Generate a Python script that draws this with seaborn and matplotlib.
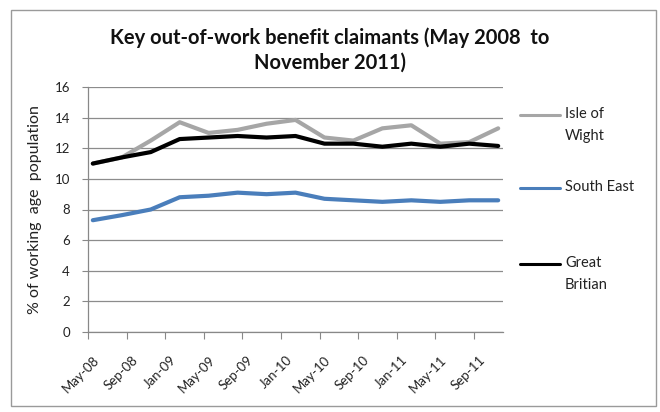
import matplotlib
matplotlib.use("Agg")
import matplotlib.pyplot as plt
from matplotlib.lines import Line2D
from matplotlib.patches import Rectangle
import matplotlib.transforms as mtransforms
import seaborn as sns
import pandas as pd
import numpy as np

# quarterly observations, May-08 .. Nov-11
periods = ["May-08", "Aug-08", "Nov-08", "Feb-09", "May-09", "Aug-09", "Nov-09", "Feb-10",
           "May-10", "Aug-10", "Nov-10", "Feb-11", "May-11", "Aug-11", "Nov-11"]
month_index = [0, 3, 6, 9, 12, 15, 18, 21, 24, 27, 30, 33, 36, 39, 42]
isle_of_wight = [11.0, 11.4, 12.5, 13.7, 13.0, 13.2, 13.6, 13.85, 12.7, 12.5, 13.3, 13.5, 12.3, 12.4, 13.3]
south_east = [7.3, 7.63, 8.0, 8.8, 8.9, 9.1, 9.0, 9.1, 8.7, 8.6, 8.5, 8.6, 8.5, 8.6, 8.6]
great_britain = [11.0, 11.4, 11.75, 12.6, 12.7, 12.8, 12.7, 12.8, 12.3, 12.3, 12.1, 12.3, 12.1, 12.3, 12.15]

series_names = ["Isle of\nWight", "South East", "Great\nBritian"]
colors = ["#A6A6A6", "#4A7EBB", "#000000"]
tick_labels = ["May-08", "Sep-08", "Jan-09", "May-09", "Sep-09", "Jan-10", "May-10",
               "Sep-10", "Jan-11", "May-11", "Sep-11"]
tick_months = [0, 4, 8, 12, 16, 20, 24, 28, 32, 36, 40]

sns.set_style("white")
FONT = ["Lato", "DejaVu Sans"]
plt.rcParams["font.family"] = FONT

rows = []
for name, vals in zip(series_names, [isle_of_wight, south_east, great_britain]):
    for m, v in zip(month_index, vals):
        rows.append({"month": m + 0.5, "value": v, "series": name})
df = pd.DataFrame(rows)

fig = plt.figure(figsize=(6.6, 4.12), dpi=100)
ax = fig.add_axes([88 / 660, 80 / 412, (503 - 88) / 660, (332 - 87) / 412])

sns.lineplot(data=df, x="month", y="value", hue="series", hue_order=series_names,
             palette=colors, linewidth=3.0, ax=ax, legend=False)

ax.set_xlim(0, 43)
ax.set_ylim(0, 16)
ax.set_yticks(np.arange(0, 17, 2))
ax.set_xticks(tick_months)
ax.tick_params(axis="y", labelsize=9.5, colors="#222222", length=4, width=0.8,
               direction="out", left=True, color="#888888", pad=9)
ax.tick_params(axis="x", length=5, width=0.8, direction="out", bottom=True, color="#888888",
               pad=0)
ax.set_xticklabels(tick_labels, rotation=45, ha="right", va="center",
                   rotation_mode="anchor", fontsize=9.5, color="#222222")
offset = mtransforms.ScaledTranslation(0.09, -0.19, fig.dpi_scale_trans)
for lab in ax.xaxis.get_majorticklabels():
    lab.set_transform(lab.get_transform() + offset)
ax.yaxis.grid(True, color="#8C8C8C", linewidth=0.9)
ax.set_axisbelow(True)
for s in ["top", "right"]:
    ax.spines[s].set_visible(False)
for s in ["left", "bottom"]:
    ax.spines[s].set_color("#888888")
    ax.spines[s].set_linewidth(0.9)
ax.set_xlabel("")
ax.set_ylabel("% of working  age  population", fontsize=11.5, color="#222222")
ax.yaxis.set_label_coords(-(88 - 42) / 415, 0.5)

fig.text(330 / 660, 1 - 38 / 412, "Key out-of-work benefit claimants (May 2008  to",
         ha="center", va="center", fontsize=14.5, fontweight="bold", color="#111111")
fig.text(330 / 660, 1 - 63 / 412, "November 2011)",
         ha="center", va="center", fontsize=14.5, fontweight="bold", color="#111111")

# legend (manual, Excel-style with handle aligned to first text line)
legend_y = [115, 188, 264]
for name, col, yy in zip(series_names, colors, legend_y):
    fy = 1 - yy / 412
    fig.add_artist(Line2D([520 / 660, 560 / 660], [fy, fy], color=col, linewidth=2.2))
    fig.text(565 / 660, fy + 8 / 412, name, ha="left", va="top", fontsize=10.5,
             color="#222222", linespacing=1.75)

fig.add_artist(Rectangle((11 / 660, 6 / 412), 645 / 660, 396 / 412, fill=False,
                         edgecolor="#9A9A9A", linewidth=1.0, transform=fig.transFigure))

fig.savefig("out.png", dpi=100)
